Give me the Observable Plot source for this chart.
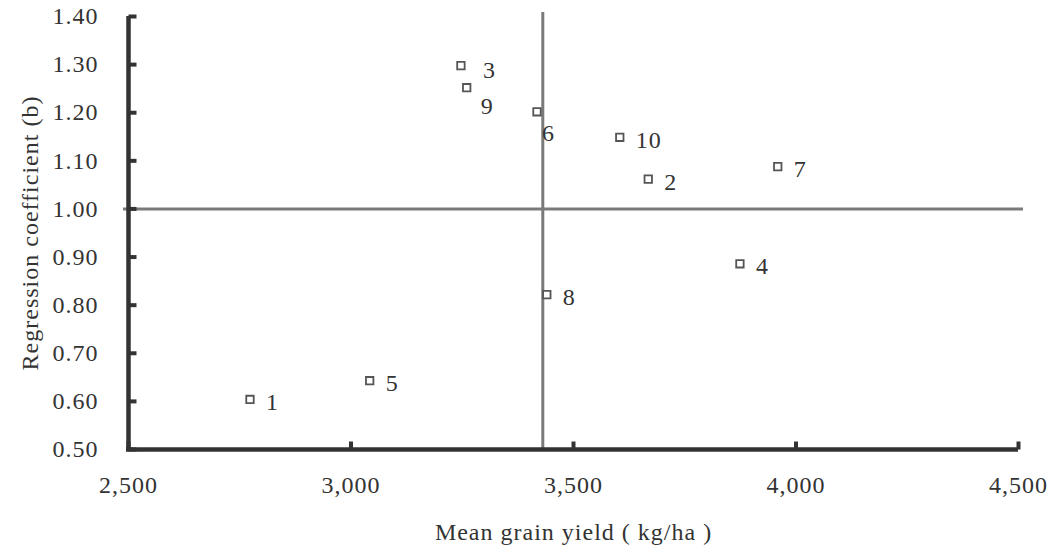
<!DOCTYPE html>
<html><head><meta charset="utf-8">
<script src="https://cdn.jsdelivr.net/npm/d3@7"></script>
<script src="https://cdn.jsdelivr.net/npm/@observablehq/plot@0.6"></script>
<style>body{margin:0;background:#fff}</style>
</head><body><div id="chart"></div>
<script>
const entries = ["1","2","3","4","5","6","7","8","9","10"];
const meanYield = [2773, 3668, 3247, 3874, 3042, 3418, 3959, 3440, 3260, 3604];
const regressionB = [0.604, 1.062, 1.298, 0.886, 0.643, 1.202, 1.088, 0.822, 1.252, 1.149];
const xTicks = [2500, 3000, 3500, 4000, 4500];
const yTicks = [0.5, 0.6, 0.7, 0.8, 0.9, 1.0, 1.1, 1.2, 1.3, 1.4];
const grandMeanYield = 3431;
const referenceB = 1.00;
const xTitle = "Mean grain yield ( kg/ha )";
const yTitle = "Regression coefficient (b)";

const data = entries.map((e, i) => ({entry: e, x: meanYield[i], b: regressionB[i]}));
const ink = "#333";
const special = ["3", "6", "9"];
const tickRight = {draw(ctx) { ctx.moveTo(0, 0); ctx.lineTo(8, 0); }};
const tickUp = {draw(ctx) { ctx.moveTo(0, 0); ctx.lineTo(0, -8); }};

const chart = Plot.plot({
  width: 1050, height: 549,
  marginLeft: 128, marginRight: 32, marginTop: 16, marginBottom: 100,
  style: {fontFamily: "'Liberation Serif', serif", fontSize: "24px", color: ink, letterSpacing: "1px", background: "#fff"},
  x: {domain: [2500, 4500]},
  y: {domain: [0.5, 1.4]},
  marks: [
    Plot.ruleY([referenceB], {stroke: "#7a7a7a", strokeWidth: 3, insetLeft: -5, insetRight: -5}),
    Plot.ruleX([grandMeanYield], {stroke: "#7a7a7a", strokeWidth: 3, insetTop: -4}),
    Plot.axisY({ticks: yTicks, tickSize: 0, tickPadding: 30, tickFormat: d3.format(".2f"), fill: ink,
      label: yTitle, labelAnchor: "center", labelOffset: 108, labelArrow: "none"}),
    Plot.axisX({ticks: xTicks, tickSize: 0, tickPadding: 26, tickFormat: d3.format(","), fill: ink,
      label: xTitle, labelAnchor: "center", labelOffset: 90, labelArrow: "none"}),
    Plot.dot(yTicks, {y: d => d, frameAnchor: "left", symbol: tickRight, stroke: ink, strokeWidth: 4, fill: "none"}),
    Plot.dot(xTicks, {x: d => d, frameAnchor: "bottom", symbol: tickUp, stroke: ink, strokeWidth: 4, fill: "none"}),
    Plot.ruleX([2500], {stroke: ink, strokeWidth: 4.5}),
    Plot.ruleY([0.5], {stroke: ink, strokeWidth: 4.5, insetLeft: -2}),
    Plot.dot(data, {x: "x", y: "b", symbol: "square", r: 4.2, stroke: "#555", strokeWidth: 1.8, fill: "#fff"}),
    Plot.text(data, {filter: d => !special.includes(d.entry), x: "x", y: "b", text: "entry", textAnchor: "start", dx: 16, dy: 3, fill: ink}),
    Plot.text(data, {filter: d => d.entry === "3", x: "x", y: "b", text: "entry", textAnchor: "start", dx: 22, dy: 5, fill: ink}),
    Plot.text(data, {filter: d => d.entry === "9", x: "x", y: "b", text: "entry", textAnchor: "start", dx: 14, dy: 19, fill: ink}),
    Plot.text(data, {filter: d => d.entry === "6", x: "x", y: "b", text: "entry", textAnchor: "start", dx: 5, dy: 22, fill: ink})
  ]
});
document.getElementById("chart").appendChild(chart);
</script>
</body></html>
